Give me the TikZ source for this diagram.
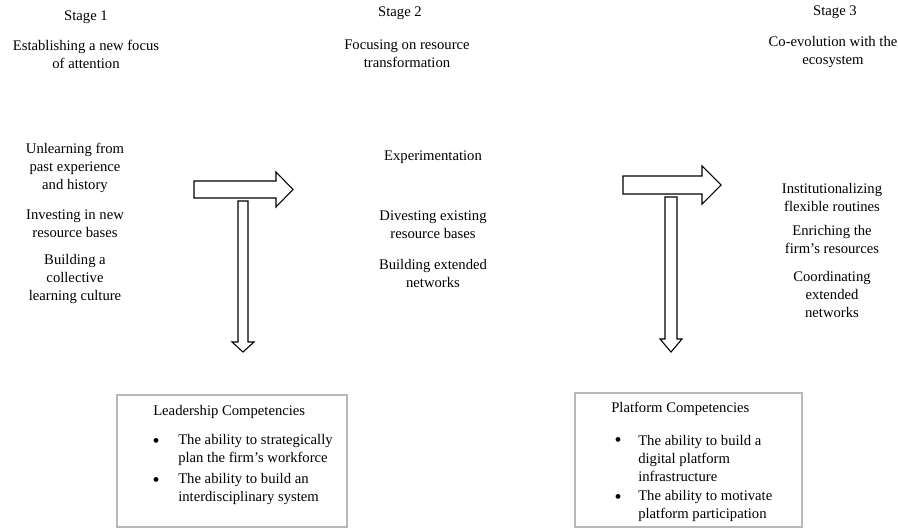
\documentclass[tikz,border=0pt]{standalone}
\usepackage{fontspec}
\setmainfont{Liberation Serif}
\usepackage{tikz}

\tikzset{
  txt/.style={inner sep=0.75pt, align=center, font=\fontsize{11}{13.5}\selectfont},
  ltxt/.style={inner sep=0.75pt, align=left, anchor=west, font=\fontsize{11}{13.5}\selectfont},
  dot/.style={inner sep=0pt, anchor=center, font=\fontsize{15}{15}\selectfont},
  blockarrow/.style={draw=black, line width=0.8pt, fill=white, line join=miter},
  compbox/.style={draw=black!28, line width=1.3pt}
}

\begin{document}
\begin{tikzpicture}[x=0.75pt,y=0.75pt,yscale=-1,xscale=1]
\useasboundingbox (0,0) rectangle (898,529);

% Stage headings
\node[txt] (stageA) at (86,17) {Stage 1};
\node[txt] (focusA) at (86,54) {Establishing a new focus\\of attention};
\node[txt] (stageB) at (400,13) {Stage 2};
\node[txt] (focusB) at (407,53.5) {Focusing on resource\\transformation};
\node[txt] (stageC) at (835,12) {Stage 3};
\node[txt] (focusC) at (833,51.5) {Co-evolution with the\\ecosystem};

% Stage 1 activities
\node[txt] (unlearn) at (75,168) {Unlearning from\\past experience\\and history};
\node[txt] (invest) at (75,224) {Investing in new\\resource bases};
\node[txt] (culture) at (75,279) {Building a\\collective\\learning culture};

% Stage 2 activities
\node[txt] (experim) at (433,157) {Experimentation};
\node[txt] (divest) at (433,225) {Divesting existing\\resource bases};
\node[txt] (extnet) at (433,273.5) {Building extended\\networks};

% Stage 3 activities
\node[txt] (routines) at (832,197) {Institutionalizing\\flexible routines};
\node[txt] (enrich) at (832,239.5) {Enriching the\\firm’s resources};
\node[txt] (coord) at (832,294) {Coordinating\\extended\\networks};

%Shape: Right Arrow [id:stage1]
\draw[blockarrow] (194,181) -- (276,181) -- (276,172) -- (293,189.5) -- (276,207) -- (276,198) -- (194,198) -- cycle ;
%Shape: Down Arrow [id:stage1]
\draw[blockarrow] (238,201) -- (248,201) -- (248,342) -- (254,342) -- (243,352) -- (232,342) -- (238,342) -- cycle ;
%Shape: Right Arrow [id:stage3]
\draw[blockarrow] (623,176) -- (702,176) -- (702,166) -- (721,185) -- (702,204) -- (702,194) -- (623,194) -- cycle ;
%Shape: Down Arrow [id:stage3]
\draw[blockarrow] (665,197) -- (677,197) -- (677,339) -- (682,339) -- (671,352) -- (660,339) -- (665,339) -- cycle ;

%Shape: Rectangle [id:leadership]
\draw[compbox] (117,395) rectangle (347,527) ;
\node[ltxt] (leadT) at (152,412) {Leadership Competencies};
\node[dot] (leadBa) at (156,443) {\textbullet};
\node[ltxt] (leadA) at (177,450) {The ability to strategically\\plan the firm’s workforce};
\node[dot] (leadBb) at (156,482) {\textbullet};
\node[ltxt] (leadB) at (177,489) {The ability to build an\\interdisciplinary system};

%Shape: Rectangle [id:platform]
\draw[compbox] (575,393) rectangle (802,527) ;
\node[ltxt] (platT) at (610,409) {Platform Competencies};
\node[dot] (platBa) at (618,442) {\textbullet};
\node[ltxt] (platA) at (637,458) {The ability to build a\\digital platform\\infrastructure};
\node[dot] (platBb) at (618,499) {\textbullet};
\node[ltxt] (platB) at (637,506) {The ability to motivate\\platform participation};

\end{tikzpicture}
\end{document}
